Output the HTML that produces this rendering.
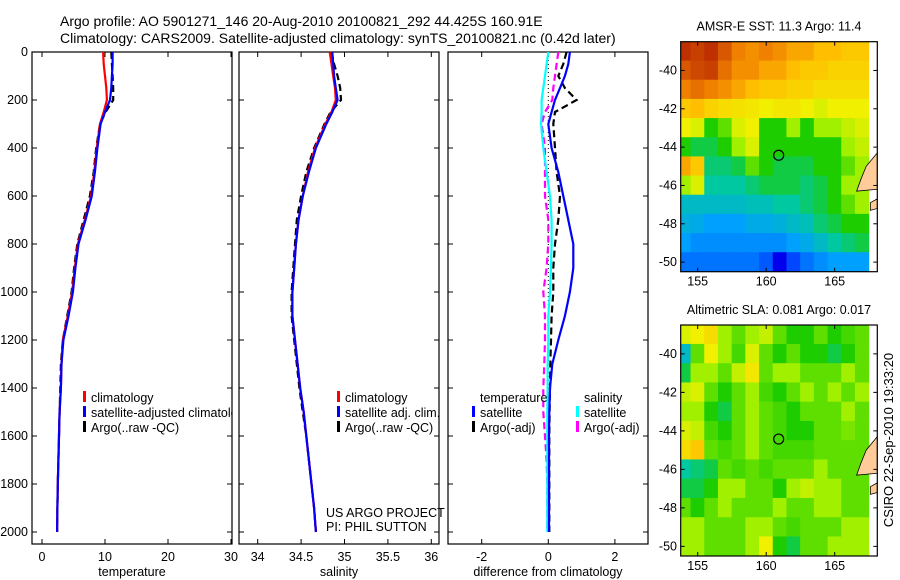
<!DOCTYPE html>
<html><head><meta charset="utf-8"><style>
body{margin:0;background:#fff;}
svg{display:block;font-family:"Liberation Sans",sans-serif;}
</style></head><body>
<svg id="fig" width="900" height="580" xmlns="http://www.w3.org/2000/svg">
<rect width="900" height="580" fill="#fff"/>
<text x="60" y="26" font-size="14">Argo profile: AO 5901271_146 20-Aug-2010 20100821_292 44.425S 160.91E</text>
<text x="60" y="43" font-size="14">Climatology: CARS2009. Satellite-adjusted climatology: synTS_20100821.nc (0.42d later)</text>
<g id="g"></g>
<text transform="translate(893,440) rotate(-90)" text-anchor="middle" font-size="13">CSIRO 22-Sep-2010 19:33:20</text>
</svg>
<script>
const depths=[0,50,100,150,200,250,300,400,500,600,700,800,900,1000,1100,1200,1300,1400,1500,1600,1700,1800,1900,2000];
const tempClim=[9.7,9.8,10.0,10.2,10.3,9.8,9.2,8.7,8.3,7.8,6.8,5.7,5.2,4.8,4.1,3.3,3.1,3.0,2.8,2.7,2.6,2.5,2.45,2.4];
const tempSat=[11.2,11.2,11.1,11.0,10.8,10.0,9.3,8.8,8.4,7.9,6.9,5.8,5.3,4.9,4.2,3.4,3.1,3.0,2.8,2.7,2.6,2.5,2.45,2.4];
const tempArgo=[11.0,11.1,11.2,11.3,11.3,10.1,9.2,8.6,8.2,7.6,6.6,5.6,5.1,4.7,4.0,3.3,3.0,2.9,2.8,2.7,2.6,2.5,2.45,2.4];
const salClim=[34.83,34.85,34.87,34.89,34.9,34.85,34.78,34.66,34.58,34.52,34.47,34.44,34.42,34.4,34.4,34.43,34.46,34.49,34.53,34.56,34.59,34.62,34.65,34.67];
const salSat=[34.86,34.87,34.88,34.9,34.92,34.86,34.79,34.67,34.59,34.52,34.47,34.44,34.42,34.4,34.4,34.43,34.46,34.49,34.53,34.56,34.59,34.62,34.65,34.67];
const salArgo=[34.85,34.88,34.92,34.95,34.96,34.84,34.77,34.65,34.56,34.5,34.45,34.43,34.41,34.39,34.39,34.42,34.45,34.48,34.52,34.56,34.59,34.62,34.65,34.67];
const dTempSat=[0.65,0.6,0.5,0.35,0.2,0.1,0.0,0.1,0.3,0.45,0.6,0.75,0.75,0.65,0.5,0.3,0.12,0.05,0.03,0.02,0.02,0.02,0.02,0.02];
const dTempArgo=[0.55,0.45,0.3,0.5,0.85,0.2,0.15,0.2,0.25,0.35,0.3,0.2,0.15,0.15,0.1,0.08,0.06,0.05,0.04,0.03,0.03,0.03,0.03,0.03];
const dSalSat=[0.0,-0.05,-0.1,-0.15,-0.2,-0.2,-0.22,-0.15,-0.05,0.05,0.1,0.1,0.08,0.05,0.0,0.0,-0.02,-0.02,-0.03,-0.03,-0.03,-0.03,-0.03,-0.03];
const dSalArgo=[0.3,0.25,0.2,0.15,0.12,-0.1,-0.2,-0.1,-0.1,-0.1,0.0,0.0,-0.05,-0.15,-0.1,-0.1,-0.12,-0.15,-0.15,-0.1,-0.05,-0.03,-0.03,-0.03];
const depthTicks=[0,200,400,600,800,1000,1200,1400,1600,1800,2000];
const tempTicks=[0,10,20,30];
const salTicks=[34,34.5,35,35.5,36];
const diffTicks=[-2,0,2];
const lonTicks=[155,160,165];
const latTicks=[-40,-42,-44,-46,-48,-50];
const mapLons=[154,155,156,157,158,159,160,161,162,163,164,165,166,167];
const mapLats=[-39,-40,-41,-42,-43,-44,-45,-46,-47,-48,-49,-50];
const sst=[
[.9,.88,.9,.85,.8,.78,.8,.78,.75,.75,.72,.72,.7,.7],
[.85,.87,.88,.82,.78,.78,.75,.75,.72,.7,.7,.68,.68,.68],
[.8,.82,.8,.78,.75,.72,.7,.7,.68,.68,.66,.66,.66,.66],
[.7,.72,.68,.66,.65,.64,.62,.64,.64,.62,.6,.62,.62,.62],
[.62,.6,.45,.5,.6,.62,.45,.45,.55,.45,.55,.55,.58,.6],
[.45,.42,.42,.45,.55,.6,.45,.45,.45,.45,.45,.45,.55,.58],
[.75,.7,.4,.4,.42,.5,.45,.42,.42,.42,.45,.45,.5,.55],
[.55,.6,.38,.38,.38,.4,.42,.42,.42,.4,.42,.45,.55,.55],
[.35,.35,.35,.35,.35,.36,.36,.38,.38,.4,.42,.45,.5,.55],
[.33,.32,.3,.3,.3,.32,.32,.33,.35,.36,.4,.42,.45,.45],
[.3,.28,.28,.28,.28,.28,.28,.28,.3,.32,.35,.38,.4,.42],
[.25,.25,.25,.25,.25,.25,.22,.1,.2,.25,.28,.3,.3,.3]];
const sla=[
[.6,.62,.66,.55,.5,.55,.58,.5,.45,.45,.5,.45,.48,.5],
[.35,.5,.62,.55,.48,.6,.5,.45,.5,.45,.45,.42,.45,.5],
[.42,.55,.55,.5,.58,.64,.5,.55,.55,.5,.5,.5,.55,.5],
[.58,.6,.5,.45,.5,.55,.48,.45,.5,.55,.5,.55,.5,.55],
[.55,.55,.45,.42,.5,.55,.5,.48,.45,.5,.5,.5,.55,.5],
[.6,.58,.48,.45,.5,.55,.5,.48,.45,.45,.5,.5,.52,.5],
[.66,.7,.5,.48,.5,.55,.5,.48,.48,.48,.5,.5,.5,.5],
[.38,.4,.42,.5,.48,.5,.48,.5,.5,.5,.55,.5,.5,.5],
[.42,.42,.45,.55,.55,.5,.5,.45,.55,.58,.55,.55,.5,.5],
[.5,.45,.5,.55,.5,.5,.5,.55,.5,.5,.55,.55,.5,.5],
[.55,.55,.5,.5,.5,.55,.55,.5,.48,.5,.5,.5,.55,.55],
[.55,.55,.5,.5,.5,.55,.62,.45,.42,.5,.5,.55,.55,.55]];
const argoLon=160.91, argoLat=-44.425;

const NS="http://www.w3.org/2000/svg";
const G=document.getElementById('g');
function mk(t,a,p){const e=document.createElementNS(NS,t);for(const k in a)e.setAttribute(k,a[k]);(p||G).appendChild(e);return e;}
const Y=d=>52+d*0.24;
const panels=[
 {x0:32,x1:232,sx:v=>42+v*6.3,ticks:tempTicks,label:'temperature',name:'temperature'},
 {x0:239,x1:439,sx:v=>257.7+(v-34)*86.8,ticks:salTicks,label:'salinity',name:'salinity'},
 {x0:448,x1:648,sx:v=>548.3+v*33.3,ticks:diffTicks,label:'difference from climatology',name:'difference'}];
panels.forEach((p,i)=>{
 const g=mk('g',{});
 
 
 mk('rect',{x:p.x0,y:52,width:p.x1-p.x0,height:492,fill:'none',stroke:'#000','stroke-width':1.2},g);
 p.ticks.forEach(t=>{const x=p.sx(t);
  mk('line',{x1:x,x2:x,y1:544,y2:539,stroke:'#000'},g);mk('line',{x1:x,x2:x,y1:52,y2:57,stroke:'#000'},g);
  const tx=mk('text',{x:x,y:561,'text-anchor':'middle','font-size':12.5},g);tx.textContent=t;});
 depthTicks.forEach(d=>{const y=Y(d);
  mk('line',{x1:p.x0,x2:p.x0+5,y1:y,y2:y,stroke:'#000'},g);mk('line',{x1:p.x1,x2:p.x1-5,y1:y,y2:y,stroke:'#000'},g);
  if(i==0){const tx=mk('text',{x:28,y:y+4,'text-anchor':'end','font-size':12.5},g);tx.textContent=d;}});
 const xl=mk('text',{x:(p.x0+p.x1)/2,y:576,'text-anchor':'middle','font-size':12.5},g);xl.textContent=p.label;
});
function line(vals,sx,col,dash,name,w){
 const pts=vals.map((v,k)=>sx(v).toFixed(1)+','+Y(depths[k]).toFixed(1)).join(' ');
 const e=mk('polyline',{points:pts,fill:'none',stroke:col,'stroke-width':w||2.2});
 if(dash)e.setAttribute('stroke-dasharray',dash);
 
 
}
const P=panels;
line(tempArgo,P[0].sx,'#000','7,4','temp-argo-line');
line(tempClim,P[0].sx,'#f00',null,'temp-climatology-line');
line(tempSat,P[0].sx,'#00f',null,'temp-satellite-line');
line(salArgo,P[1].sx,'#000','7,4','sal-argo-line');
line(salClim,P[1].sx,'#f00',null,'sal-climatology-line');
line(salSat,P[1].sx,'#00f',null,'sal-satellite-line');
line(depths.map(()=>0),P[2].sx,'#000','1,3','zero-line',1);
line(dTempArgo,P[2].sx,'#000','7,4','diff-temp-argo-line');
line(dSalArgo,P[2].sx,'#f0f','7,4','diff-sal-argo-line');
line(dSalSat,P[2].sx,'#0ff',null,'diff-sal-satellite-line');
line(dTempSat,P[2].sx,'#00f',null,'diff-temp-satellite-line');
const cpT=mk('clipPath',{id:'clipTemp'});mk('rect',{x:32,y:52,width:200,height:492},cpT);
function legend(x,y,col,txt,name,clip){
 const g=mk('g',{});
 if(clip)g.setAttribute('clip-path','url(#'+clip+')');
 mk('rect',{x:x,y:y-9,width:3,height:11,fill:col},g);
 const t=mk('text',{x:x+8,y:y+2,'font-size':12.5},g);t.textContent=txt;}
legend(83,400,'#f00','climatology','legend-temp-climatology','clipTemp');
legend(83,415,'#00f','satellite-adjusted climatology','legend-temp-satellite','clipTemp');
legend(83,430,'#000','Argo(..raw -QC)','legend-temp-argo','clipTemp');
legend(337,400,'#f00','climatology','legend-sal-climatology');
legend(337,415,'#00f','satellite adj. clim.','legend-sal-satellite');
legend(337,430,'#000','Argo(..raw -QC)','legend-sal-argo');
let t=mk('text',{x:480,y:402,'font-size':12.5});t.textContent='temperature';
t=mk('text',{x:584,y:402,'font-size':12.5});t.textContent='salinity';
legend(472,415,'#00f','satellite','legend-diff-temp-satellite');
legend(472,430,'#000','Argo(-adj)','legend-diff-temp-argo');
legend(576,415,'#0ff','satellite','legend-diff-sal-satellite');
legend(576,430,'#f0f','Argo(-adj)','legend-diff-sal-argo');
t=mk('text',{x:326,y:517,'font-size':12.5});t.textContent='US ARGO PROJECT';
t=mk('text',{x:326,y:531,'font-size':12.5});t.textContent='PI: PHIL SUTTON';

const stops=[[0,[0,0,140]],[.12,[0,0,255]],[.3,[0,160,255]],[.38,[0,200,160]],[.45,[30,205,0]],[.55,[160,240,0]],[.62,[240,240,0]],[.72,[255,190,0]],[.8,[240,128,0]],[.9,[190,48,0]],[1,[128,0,0]]];
function cmap(v){for(let i=1;i<stops.length;i++){if(v<=stops[i][0]){const a=stops[i-1],b=stops[i],f=(v-a[0])/(b[0]-a[0]);
 return 'rgb('+a[1].map((c,k)=>Math.round(c+(b[1][k]-c)*f)).join(',')+')';}}return 'rgb(128,0,0)';}
function map(top,bot,data,title,name){
 const x0=680.7,x1=877.3;
 const lx=lon=>684+(lon-154)*13.7;
 const ly=lat=>top+(-38.5-lat)*(bot-top)/12;
 const g=mk('g',{});
 const cp=mk('clipPath',{id:'c'+name},g);mk('rect',{x:x0,y:top,width:x1-x0,height:bot-top},cp);
 const cg=mk('g',{'clip-path':'url(#c'+name+')'},g);
 data.forEach((row,r)=>row.forEach((v,c)=>{
  const lon=mapLons[c],lat=mapLats[r];
  const e=mk('rect',{x:lx(lon-0.5)-0.3,y:ly(lat+0.5)-0.3,width:13.7+0.6,height:(bot-top)/12+0.6,fill:cmap(v)},cg);
  
  
 }));
 mk('path',{d:`M${x1} ${ly(-44.3)} L${lx(167.3)} ${ly(-45)} L${lx(166.9)} ${ly(-45.7)} L${lx(166.6)} ${ly(-46.3)} L${x1} ${ly(-46.2)} Z`,fill:'#ffcc99',stroke:'#000','stroke-width':0.8},cg);
 mk('path',{d:`M${lx(167.6)} ${ly(-46.9)} L${x1} ${ly(-46.7)} L${x1} ${ly(-47.2)} L${lx(167.6)} ${ly(-47.3)} Z`,fill:'#ffcc99',stroke:'#000','stroke-width':0.8},cg);
 mk('circle',{cx:lx(argoLon),cy:ly(argoLat),r:5,fill:'none',stroke:'#000','stroke-width':1.2},g);
 mk('rect',{x:x0,y:top,width:x1-x0,height:bot-top,fill:'none',stroke:'#000','stroke-width':1.2},g);
 lonTicks.forEach(l=>{const x=lx(l);mk('line',{x1:x,x2:x,y1:bot,y2:bot-4,stroke:'#000'},g);mk('line',{x1:x,x2:x,y1:top,y2:top+4,stroke:'#000'},g);
  const tt=mk('text',{x:x,y:bot+14,'text-anchor':'middle','font-size':12.5},g);tt.textContent=l;});
 latTicks.forEach(l=>{const y=ly(l);mk('line',{x1:x0,x2:x0+4,y1:y,y2:y,stroke:'#000'},g);mk('line',{x1:x1,x2:x1-4,y1:y,y2:y,stroke:'#000'},g);
  const tt=mk('text',{x:677,y:y+4,'text-anchor':'end','font-size':12.5},g);tt.textContent=l;});
 const tt=mk('text',{x:779,y:top-11,'text-anchor':'middle','font-size':12.5},g);tt.textContent=title;
}
map(41.7,271.7,sst,'AMSR-E SST: 11.3 Argo: 11.4','sst-map');
map(325,556,sla,'Altimetric SLA: 0.081 Argo: 0.017','sla-map');
</script>
</body></html>
